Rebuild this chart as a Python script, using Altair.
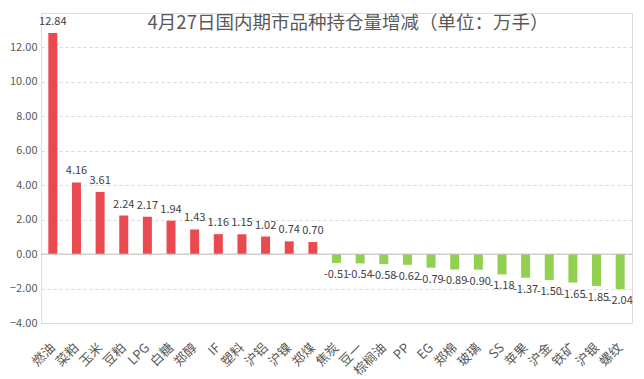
import altair as alt
import pandas as pd

categories = ["燃油", "菜粕", "玉米", "豆粕", "LPG", "白糖", "郑醇", "IF", "塑料", "沪铝",
              "沪镍", "郑煤", "焦炭", "豆一", "棕榈油", "PP", "EG", "郑棉", "玻璃", "SS",
              "苹果", "沪金", "铁矿", "沪银", "螺纹"]
values = [12.84, 4.16, 3.61, 2.24, 2.17, 1.94, 1.43, 1.16, 1.15, 1.02,
          0.74, 0.70, -0.51, -0.54, -0.58, -0.62, -0.79, -0.89, -0.90, -1.18,
          -1.37, -1.50, -1.65, -1.85, -2.04]
y_ticks = [-4, -2, 0, 2, 4, 6, 8, 10, 12]
title_text = "4月27日国内期市品种持仓量增减（单位：万手）"

df = pd.DataFrame({"品种": categories, "增减": values})
df["sign"] = ["pos" if v >= 0 else "neg" for v in values]
df["label"] = [f"{v:.2f}" for v in values]

FONT = "Noto Sans CJK SC"
x_scale = alt.Scale(paddingInner=0.6, paddingOuter=0.3)
x_axis = alt.Axis(labelAngle=-45, labelFont=FONT, labelFontSize=13,
                  labelColor="#595959", domain=False, ticks=False,
                  labelPadding=18, labelOffset=-4, labelOverlap=False)
y_scale = alt.Scale(domain=[-4, 14], nice=False)
y_axis = alt.Axis(values=y_ticks, format=".2f", labelFont=FONT,
                  labelFontSize=11, labelColor="#595959", domain=False,
                  ticks=False, gridDash=[3, 3], gridColor="#D9D9D9",
                  labelPadding=4, labelOverlap=False)

def xe():
    return alt.X("品种:N", sort=categories, title=None, scale=x_scale, axis=x_axis)

def ye(field="增减:Q"):
    return alt.Y(field, scale=y_scale, title=None, axis=y_axis)

bars = alt.Chart(df).mark_bar(size=9).encode(
    x=xe(),
    y=ye(),
    color=alt.Color("sign:N", scale=alt.Scale(domain=["pos", "neg"],
                                              range=["#EA4A4F", "#92D050"]),
                    legend=None),
)

zero = alt.Chart(pd.DataFrame({"z": [0]})).mark_rule(color="#BFBFBF", strokeWidth=1).encode(
    y=ye("z:Q")
)

pos_labels = alt.Chart(df[df["sign"] == "pos"]).mark_text(
    baseline="bottom", dy=-6, font=FONT, fontSize=11, color="#404040"
).encode(x=xe(), y=ye(), text="label:N")

neg_labels = alt.Chart(df[df["sign"] == "neg"]).mark_text(
    baseline="top", dy=6, font=FONT, fontSize=11, color="#404040"
).encode(x=xe(), y=ye(), text="label:N")

title = alt.Chart(pd.DataFrame({"t": [title_text]})).mark_text(
    font=FONT, fontSize=18.5, color="#595959", baseline="middle", align="center"
).encode(x=alt.value(307), y=alt.value(10), text="t:N")

chart = alt.layer(bars, zero, pos_labels, neg_labels, title).properties(
    width=591, height=310,
    padding={"left": 33, "top": 5, "right": 4, "bottom": 56},
    autosize=alt.AutoSizeParams(type="none"),
).configure_view(stroke=None).configure(background="white")

chart.save("out.html", embed_options={"renderer": "svg", "actions": False})
